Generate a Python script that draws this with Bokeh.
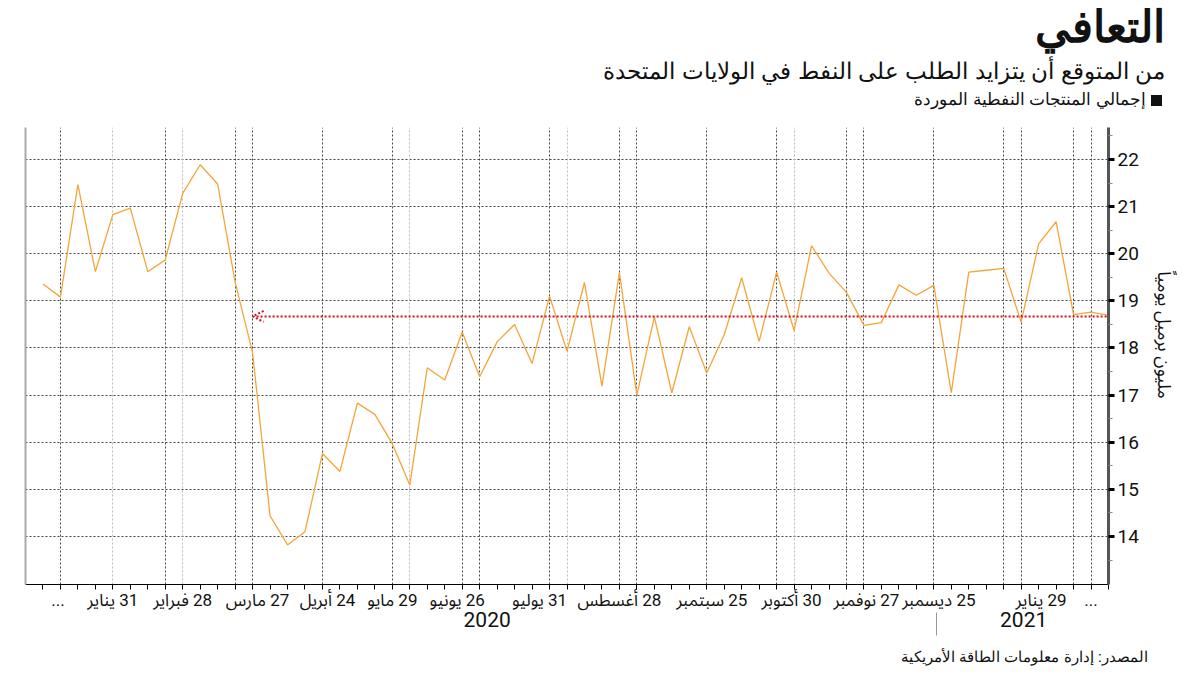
import html
import pandas as pd
from bokeh.plotting import figure
from bokeh.layouts import column
from bokeh.models import (Range1d, LinearAxis, FixedTicker, Grid, Arrow,
                          OpenHead, ColumnDataSource, Div)
from bokeh.embed import file_html
from bokeh.resources import INLINE

# ---------------- texts ----------------
title_text = "التعافي"
subtitle_text = "من المتوقع أن يتزايد الطلب على النفط في الولايات المتحدة"
legend_text = "إجمالي المنتجات النفطية الموردة"
source_text = "المصدر: إدارة معلومات الطاقة الأمريكية"
y_axis_title = "مليون برميل يومياً"

# ---------------- data ----------------
week_ending = pd.date_range("2020-01-03", periods=62, freq="7D")
product_supplied = [
    19.36, 19.08, 21.47, 19.62, 20.83, 20.97, 19.62, 19.87, 21.28, 21.89,
    21.48, 19.40, 17.90, 14.44, 13.82, 14.10, 15.76, 15.38, 16.83, 16.59,
    15.97, 15.09, 17.58, 17.32, 18.34, 17.39, 18.13, 18.50, 17.67, 19.10,
    17.93, 19.39, 17.19, 19.60, 17.00, 18.66, 17.05, 18.45, 17.47, 18.28,
    19.49, 18.14, 19.61, 18.37, 20.17, 19.59, 19.18, 18.48, 18.54, 19.34,
    19.12, 19.33, 17.05, 19.61, 19.65, 19.69, 18.55, 20.21, 20.68, 18.71,
    18.76, 18.69,
]

reference_level = 18.67
reference_from = "2020-03-27"

# month labels and where they sit along the date axis
month_tick_labels = ["...", "31 يناير", "28 فبراير", "27 مارس", "24 أبريل",
                     "29 مايو", "26 يونيو", "31 يوليو", "28 أغسطس",
                     "25 سبتمبر", "30 أكتوبر", "27 نوفمبر", "25 ديسمبر",
                     "29 يناير", "..."]
month_label_at = ["2020-01-09", "2020-01-31", "2020-02-28", "2020-03-29",
                  "2020-04-26", "2020-05-22", "2020-06-17", "2020-07-20",
                  "2020-08-21", "2020-09-27", "2020-10-29", "2020-11-28",
                  "2020-12-27", "2021-02-06", "2021-02-26"]

year_labels = ["2020", "2021"]
year_label_at = ["2020-06-29", "2021-01-30"]
year_separator_at = ["2020-12-26"]

grid_dark_dates = ["2020-01-10", "2020-02-21", "2020-03-20", "2020-03-27",
                   "2020-04-24", "2020-05-22", "2020-06-19", "2020-06-26",
                   "2020-07-24", "2020-08-21", "2020-08-28", "2020-09-25",
                   "2020-10-23", "2020-11-20", "2020-11-27", "2020-12-25",
                   "2021-01-22", "2021-01-29", "2021-02-19", "2021-02-26"]
grid_light_dates = ["2020-01-31", "2020-02-28", "2020-05-29", "2020-07-31",
                    "2020-10-30"]

y_ticks = [14, 15, 16, 17, 18, 19, 20, 21, 22]
y_minor_ticks = [13.5, 14.5, 15.5, 16.5, 17.5, 18.5, 19.5, 20.5, 21.5, 22.5]

x_start_date = "2019-12-27"
y_min, y_max = 12.98, 22.68


def ms(d):
    return int(pd.Timestamp(d).value // 10**6)


AR = "Noto Sans Arabic, DejaVu Sans"
NUM = "Roboto, Noto Sans Arabic, DejaVu Sans"
INK = "#111111"
LINE = "#F4A53A"
RED = "#D0101A"
GRID_DARK = "#444444"
GRID_LIGHT = "#bbbbbb"

W = 1192
HEAD_H, CHART_H, FOOT_H = 117, 523, 30


def text_strip(height, items, swatch=None):
    parts = [f'<svg xmlns="http://www.w3.org/2000/svg" width="{W}" height="{height}" '
             f'style="display:block">']
    if swatch is not None:
        sx, sy, ss = swatch
        parts.append(f'<rect x="{sx}" y="{sy}" width="{ss}" height="{ss}" fill="{INK}"/>')
    for txt, right_x, baseline_y, size, weight in items:
        parts.append(
            f'<text x="{right_x}" y="{baseline_y}" text-anchor="end" '
            f'font-family="{AR}" font-size="{size}px" font-weight="{weight}" '
            f'fill="{INK}">{html.escape(txt)}</text>')
    parts.append('</svg>')
    return Div(text="".join(parts), width=W, height=height,
               styles={"margin": "0", "padding": "0"})


# ---------------- header ----------------
head = text_strip(HEAD_H, [
    (title_text, 1165, 42, 44, "bold"),
    (subtitle_text, 1165, 79, 23, "normal"),
    (legend_text, 1146, 105, 17, "normal"),
], swatch=(1151, 95, 11))

# ---------------- chart ----------------
week_ms = [ms(d) for d in week_ending]
source = ColumnDataSource(data=dict(x=week_ms, y=product_supplied))

p = figure(width=W, height=CHART_H, x_axis_type="datetime",
           y_axis_location="right", title=None,
           x_range=Range1d(ms(x_start_date), week_ms[-1]),
           y_range=Range1d(y_min, y_max),
           toolbar_location=None, output_backend="svg",
           min_border_left=25, min_border_right=84,
           min_border_top=10, min_border_bottom=56,
           outline_line_color=None)

p.xgrid.visible = False
p.ygrid.ticker = FixedTicker(ticks=y_ticks)
p.ygrid.grid_line_color = GRID_DARK
p.ygrid.grid_line_dash = "2 2"
p.ygrid.grid_line_width = 1

g_light = Grid(dimension=0, ticker=FixedTicker(ticks=[ms(d) for d in grid_light_dates]),
               grid_line_color=GRID_LIGHT, grid_line_dash="2 2", grid_line_width=1)
g_dark = Grid(dimension=0, ticker=FixedTicker(ticks=[ms(d) for d in grid_dark_dates]),
              grid_line_color=GRID_DARK, grid_line_dash="2 2", grid_line_width=1)
p.add_layout(g_light)
p.add_layout(g_dark)

# right y axis
ya = p.yaxis[0]
ya.ticker = FixedTicker(ticks=y_ticks, minor_ticks=y_minor_ticks)
ya.axis_line_color = "#555555"
ya.axis_line_width = 3
ya.major_tick_in = 0
ya.major_tick_out = 6
ya.major_tick_line_width = 3
ya.major_tick_line_color = "black"
ya.minor_tick_in = 0
ya.minor_tick_out = 4
ya.minor_tick_line_color = "#888888"
ya.major_label_text_font = NUM
ya.major_label_text_font_size = "19px"
ya.major_label_text_color = INK
ya.major_label_standoff = 3
# trailing no-break spaces lift the rotated label towards the top, as in the original
ya.axis_label = y_axis_title + "\u00A0" * 9
ya.axis_label_text_font = AR
ya.axis_label_text_font_size = "18px"
ya.axis_label_text_font_style = "normal"
ya.axis_label_text_color = INK
ya.axis_label_standoff = 3

# left plain line
la = LinearAxis(ticker=FixedTicker(ticks=[]), axis_line_color="#aaaaaa",
                axis_line_width=2, major_tick_line_color=None,
                minor_tick_line_color=None, major_label_text_font_size="0px",
                major_label_standoff=0, major_tick_out=0, minor_tick_out=0)
p.add_layout(la, "left")

# bottom date axis: weekly tick marks, month labels
xa = p.xaxis[0]
label_ms = [ms(d) for d in month_label_at]
xa.ticker = FixedTicker(ticks=label_ms, minor_ticks=week_ms)
xa.major_label_overrides = {k: "\u200F" + v for k, v in zip(label_ms, month_tick_labels)}
xa.axis_line_color = "black"
xa.major_tick_line_color = None
xa.major_tick_in = 0
xa.major_tick_out = 5
xa.minor_tick_in = 0
xa.minor_tick_out = 5
xa.minor_tick_line_color = "black"
xa.major_label_text_font = NUM
xa.major_label_text_font_size = "17px"
xa.major_label_text_color = INK
xa.major_label_standoff = 0

# year axis
yr_ms = [ms(d) for d in year_label_at]
yax = LinearAxis(ticker=FixedTicker(ticks=yr_ms, minor_ticks=[ms(d) for d in year_separator_at]),
                 major_label_overrides=dict(zip(yr_ms, year_labels)),
                 axis_line_color=None, major_tick_line_color=None,
                 major_tick_in=0, major_tick_out=0,
                 minor_tick_in=0, minor_tick_out=23, minor_tick_line_color="#999999",
                 major_label_text_font=NUM, major_label_text_font_size="21px",
                 major_label_text_color=INK, major_label_standoff=-24)
p.add_layout(yax, "below")

# data line
p.line(x="x", y="y", source=source, line_color=LINE, line_width=1.3)

# reference arrow
arrow = Arrow(start=OpenHead(size=11, line_color=RED, line_width=2, line_dash="2 2"),
              end=None, x_start=ms(reference_from), y_start=reference_level,
              x_end=week_ms[-1], y_end=reference_level,
              line_color=RED, line_width=2, line_dash="2 2")
p.add_layout(arrow)

# ---------------- footer ----------------
foot = text_strip(FOOT_H, [(source_text, 1148, 22, 15, "normal")])

layout = column(head, p, foot, spacing=0)
open("out.html", "w").write(file_html(layout, INLINE))
